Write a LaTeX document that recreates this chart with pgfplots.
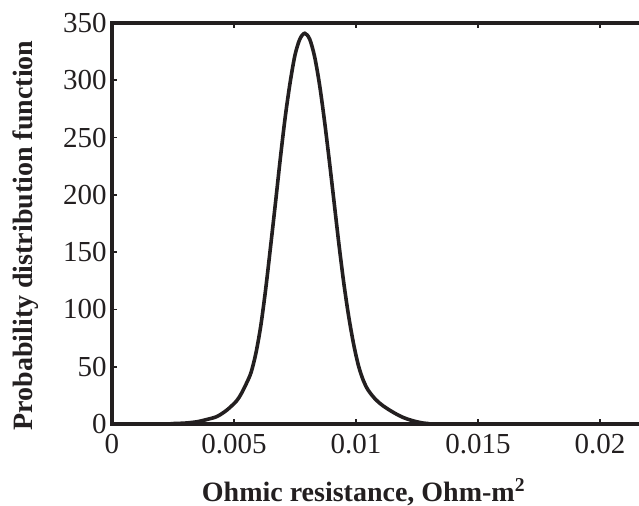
\documentclass[border=0pt]{standalone}
\usepackage{fontspec}
\setmainfont{Liberation Serif}
\usepackage{pgfplots}
\pgfplotsset{compat=1.18}
\definecolor{inkblack}{RGB}{35,31,32}

\begin{document}
\begin{tikzpicture}
\begin{axis}[
  name=pdf,
  scale only axis,
  width=268.4pt, height=200.5pt,
  xmin=0, xmax=0.022, ymin=0, ymax=350,
  xtick={0,0.005,0.01,0.015,0.02},
  xticklabels={0,0.005,0.01,0.015,0.02},
  scaled x ticks=false,
  ytick={0,50,100,150,200,250,300,350},
  /pgf/number format/assume math mode=true,
  tick align=inside, major tick length=2.5pt,
  ytick pos=left,
  axis line style={inkblack, line width=1.6pt},
  every tick/.style={inkblack, line width=0.8pt},
  tick label style={font=\fontsize{14.5}{17}\selectfont, inkblack, inner sep=1pt},
  xticklabel style={yshift=-4pt},
  yticklabel style={xshift=-1.5pt},
  every axis x label/.style={at={(axis description cs:0.469,0)}, anchor=base, yshift=-39pt},
  every axis y label/.style={at={(axis description cs:0,0.47)}, rotate=90, anchor=base, yshift=39.5pt},
  label style={font=\bfseries\fontsize{14}{16}\selectfont, inkblack},
  xlabel={Ohmic resistance, Ohm-m\textsuperscript{2}},
  ylabel={Probability distribution function},
  clip=false,
]
\addplot[inkblack, line width=1.8pt, smooth] coordinates {
  (0.0024,0.3) (0.0030,0.8) (0.0035,2) (0.0039,4) (0.0043,6.5)
  (0.0047,12) (0.0051,20) (0.0053,26.5) (0.0055,35) (0.0057,45)
  (0.0059,62) (0.0061,86) (0.0063,118) (0.0065,155) (0.0067,193)
  (0.0069,232) (0.0071,268) (0.0073,298) (0.0075,322) (0.0077,336)
  (0.0079,341) (0.0081,336) (0.0083,321) (0.0085,297) (0.0087,266)
  (0.0089,231) (0.0091,194) (0.0093,157) (0.0095,123) (0.0097,94)
  (0.0099,70) (0.0101,51) (0.0103,38) (0.0105,29.5) (0.0108,21.5)
  (0.0111,16) (0.0115,10.5) (0.0119,6) (0.0123,3) (0.0127,1)
  (0.0130,0.3)
};
\end{axis}
\pgfresetboundingbox
\path[use as bounding box] ([xshift=-56pt,yshift=11.5pt]pdf.north west) rectangle ([xshift=263.5pt,yshift=-41pt]pdf.south west);
\end{tikzpicture}
\end{document}
